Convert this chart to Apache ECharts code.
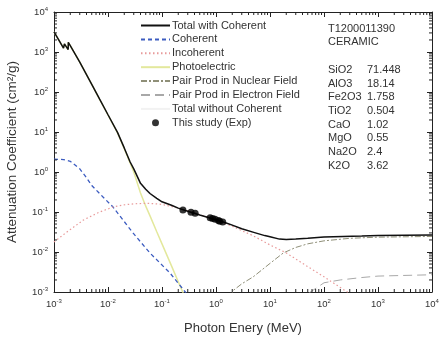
<!DOCTYPE html>
<html>
<head>
<meta charset="utf-8">
<script src="https://cdn.jsdelivr.net/npm/echarts@6/dist/echarts.min.js"></script>
<style>
html, body { margin: 0; padding: 0; background: #fff; }
#chart { width: 440px; height: 338px; }
</style>
</head>
<body>
<div id="chart"></div>
<script>
// energies in MeV, attenuation in cm2/g
var energyTotal = [0.001, 0.0012, 0.0015, 0.00156, 0.00183, 0.00184, 0.002, 0.003, 0.005, 0.007, 0.01, 0.015, 0.02, 0.0257, 0.03, 0.04, 0.05, 0.06, 0.08, 0.1, 0.15, 0.2, 0.3, 0.5, 0.8, 1, 1.5, 2, 3, 5, 8, 10, 15, 20, 30, 50, 100, 500, 1000, 10000];
var muTotal = [3200, 2100, 1250, 1600, 1150, 1750, 1450, 560, 156, 66, 27, 9.8, 4.0, 1.78, 1.2, 0.52, 0.37, 0.29, 0.22, 0.18, 0.147, 0.125, 0.104, 0.084, 0.070, 0.064, 0.054, 0.047, 0.038, 0.031, 0.0257, 0.024, 0.021, 0.0205, 0.021, 0.022, 0.0237, 0.025, 0.0258, 0.0266];
var muTotalNoCoh = [3198, 2098, 1248, 1598, 1148, 1748, 1448, 559, 155.5, 65.8, 26.9, 9.7, 3.95, 1.75, 1.17, 0.48, 0.34, 0.27, 0.21, 0.172, 0.143, 0.123, 0.103, 0.0838, 0.0699, 0.0639, 0.054, 0.047, 0.038, 0.031, 0.0257, 0.024, 0.021, 0.0205, 0.021, 0.022, 0.0237, 0.025, 0.0258, 0.0266];

var energyCoh = [0.001, 0.0015, 0.002, 0.003, 0.004, 0.005, 0.008, 0.0124, 0.019, 0.029, 0.06, 0.14, 0.27, 0.5];
var muCoh = [2.1, 2.05, 1.85, 1.2, 0.72, 0.46, 0.24, 0.133, 0.063, 0.030, 0.0094, 0.003, 0.001, 0.0003];

var energyIncoh = [0.001, 0.0017, 0.0035, 0.007, 0.0124, 0.019, 0.03, 0.05, 0.08, 0.1, 0.2, 0.3, 0.5, 1, 2, 5, 10, 20, 50, 100, 200, 500, 1000];
var muIncoh = [0.0178, 0.031, 0.063, 0.10, 0.133, 0.15, 0.16, 0.165, 0.16, 0.155, 0.125, 0.107, 0.086, 0.0635, 0.044, 0.025, 0.015, 0.0095, 0.0043, 0.0024, 0.0013, 0.00058, 0.0003];

var energyPhoto = [0.001, 0.0012, 0.0015, 0.00156, 0.00183, 0.00184, 0.002, 0.003, 0.005, 0.007, 0.01, 0.015, 0.02, 0.03, 0.04, 0.05, 0.06, 0.08, 0.1, 0.15, 0.2, 0.25, 0.3];
var muPhoto = [3190, 2090, 1245, 1595, 1145, 1745, 1445, 557, 155, 65, 26.6, 9.5, 3.8, 1.0, 0.30, 0.14, 0.08, 0.032, 0.016, 0.0045, 0.0018, 0.0009, 0.0005];

var energyPairN = [1.2, 1.5, 2.1, 3, 4.9, 10.2, 17.7, 30, 50, 100, 300, 1000, 10000];
var muPairN = [0.0001, 0.0004, 0.0011, 0.0016, 0.0024, 0.0053, 0.0095, 0.013, 0.016, 0.019, 0.022, 0.0235, 0.0245];

var energyPairE = [10, 20, 50, 100, 200, 500, 1000, 10000];
var muPairE = [0.0001, 0.0004, 0.0009, 0.0017, 0.002, 0.0023, 0.0025, 0.0027];

// this study (Exp)
var expEnergy = [0.244, 0.344, 0.411, 0.779, 0.867, 0.964, 1.112, 1.173, 1.332];
var expMu = [0.112, 0.098, 0.093, 0.072, 0.069, 0.066, 0.061, 0.059, 0.056];

var oxideNames = ['SiO2', 'AlO3', 'Fe2O3', 'TiO2', 'CaO', 'MgO', 'Na2O', 'K2O'];
var oxideValues = ['71.448', '18.14', '1.758', '0.504', '1.02', '0.55', '2.4', '3.62'];

var axisMin = 0.001, axisMax = 10000;

function pairs(xs, ys) {
    var out = [];
    for (var i = 0; i < xs.length; i++) out.push([xs[i], ys[i]]);
    return out;
}

// minor tick positions 2..9 x 10^n for the log axes
var minorVals = [];
for (var p = -3; p < 4; p++) {
    for (var k = 2; k <= 9; k++) minorVals.push(k * Math.pow(10, p));
}

function expLabel(v) {
    var e = Math.round(Math.log10(v));
    return '{b|10}{e|' + e + '}';
}

var FONT = 'Liberation Sans';
var labelRich = {
    b: { fontSize: 9.5, color: '#333', fontFamily: FONT },
    e: { fontSize: 6, color: '#333', fontFamily: FONT, padding: [0, 0, 6, 0] }
};

function logAxis(pos, showLabel, extra) {
    var a = {
        type: 'log',
        logBase: 10,
        position: pos,
        min: axisMin,
        max: axisMax,
        interval: 1,
        axisLine: { show: true, lineStyle: { color: '#222', width: 1 } },
        axisTick: { show: true, inside: true, length: 5, lineStyle: { color: '#222' } },
        splitLine: { show: false },
        axisLabel: { show: showLabel, formatter: expLabel, rich: labelRich, margin: 6 }
    };
    for (var key in extra) a[key] = extra[key];
    return a;
}

var myChart = echarts.init(document.getElementById('chart'));

var tickStyle = { stroke: '#222', lineWidth: 1 };
var noSym = { opacity: 0 };
var blockText = { fontSize: 11, fontWeight: 'normal', color: '#333', lineHeight: 13.7, fontFamily: FONT };

var Option = {
    animation: false,
    backgroundColor: '#fff',
    grid: { left: 54, right: 8, top: 12, bottom: 46, outerBoundsMode: 'none', containLabel: false },
    legend: {
        orient: 'vertical',
        left: 140,
        top: 20,
        padding: 0,
        itemWidth: 29,
        itemHeight: 7,
        itemGap: 2.9,
        textStyle: { fontSize: 11, lineHeight: 10, color: '#333', fontFamily: FONT, padding: [0, 0, 0, -3] },
        data: [
            { name: 'Total with Coherent', itemStyle: noSym },
            { name: 'Coherent', itemStyle: noSym },
            { name: 'Incoherent', itemStyle: noSym },
            { name: 'Photoelectric', itemStyle: noSym },
            { name: 'Pair Prod in Nuclear Field', itemStyle: noSym },
            { name: 'Pair Prod in Electron Field', itemStyle: noSym },
            { name: 'Total without Coherent', itemStyle: noSym },
            { name: 'This study (Exp)', icon: 'circle' }
        ]
    },
    title: [{
        left: 328, top: 22, padding: 0,
        text: 'T1200011390\nCERAMIC',
        textStyle: { fontSize: 11, fontWeight: 'normal', color: '#333', lineHeight: 13.5, fontFamily: FONT }
    }, {
        left: 328, top: 63, padding: 0,
        text: oxideNames.join('\n'),
        textStyle: blockText
    }, {
        left: 367, top: 63, padding: 0,
        text: oxideValues.join('\n'),
        textStyle: blockText
    }],
    xAxis: [
        logAxis('bottom', true, {
            name: 'Photon Enery (MeV)', nameLocation: 'middle', nameGap: 30,
            nameTextStyle: { fontSize: 13, color: '#333', fontFamily: FONT }
        }),
        logAxis('top', false, {})
    ],
    yAxis: [
        logAxis('left', true, {
            name: 'Attenuation Coefficient (cm\u00b2/g)', nameLocation: 'middle', nameGap: 35,
            nameTextStyle: { fontSize: 13.5, color: '#333', fontFamily: FONT }
        }),
        logAxis('right', false, {})
    ],
    series: [{
        name: 'Total without Coherent',
        type: 'line', symbol: 'none', z: 1,
        lineStyle: { color: '#f2f2f2', width: 1 },
        data: pairs(energyTotal, muTotalNoCoh)
    }, {
        name: 'Photoelectric',
        type: 'line', symbol: 'none', z: 2,
        lineStyle: { color: '#e3e89c', width: 1.5 },
        data: pairs(energyPhoto, muPhoto)
    }, {
        name: 'Coherent',
        type: 'line', symbol: 'none', z: 3,
        lineStyle: { color: '#3c5cc0', width: 1.3, type: [4, 3] },
        data: pairs(energyCoh, muCoh)
    }, {
        name: 'Incoherent',
        type: 'line', symbol: 'none', z: 3,
        lineStyle: { color: '#e89a9a', width: 1.2, type: [1.5, 2.5] },
        data: pairs(energyIncoh, muIncoh)
    }, {
        name: 'Pair Prod in Nuclear Field',
        type: 'line', symbol: 'none', z: 3,
        lineStyle: { color: '#8f8f78', width: 1, type: [6, 2, 2, 2] },
        data: pairs(energyPairN, muPairN)
    }, {
        name: 'Pair Prod in Electron Field',
        type: 'line', symbol: 'none', z: 3,
        lineStyle: { color: '#a8a8a8', width: 1, type: [9, 5] },
        data: pairs(energyPairE, muPairE)
    }, {
        name: 'Total with Coherent',
        type: 'line', symbol: 'none', z: 4,
        lineStyle: { color: '#111', width: 1.5 },
        data: pairs(energyTotal, muTotal)
    }, {
        name: 'This study (Exp)',
        type: 'scatter', symbol: 'circle', symbolSize: 7, z: 5,
        itemStyle: { color: '#000' },
        data: pairs(expEnergy, expMu)
    }, {
        // log minor ticks on bottom and top
        type: 'custom', silent: true, clip: false, z: 6,
        data: minorVals.map(function (v) { return [v, 1]; }),
        renderItem: function (params, api) {
            var b = api.coord([api.value(0), axisMin]);
            var t = api.coord([api.value(0), axisMax]);
            return { type: 'group', children: [
                { type: 'line', shape: { x1: b[0], y1: b[1], x2: b[0], y2: b[1] - 3 }, style: tickStyle },
                { type: 'line', shape: { x1: t[0], y1: t[1], x2: t[0], y2: t[1] + 3 }, style: tickStyle }
            ] };
        }
    }, {
        // log minor ticks on left and right
        type: 'custom', silent: true, clip: false, z: 6,
        data: minorVals.map(function (v) { return [1, v]; }),
        renderItem: function (params, api) {
            var l = api.coord([axisMin, api.value(1)]);
            var r = api.coord([axisMax, api.value(1)]);
            return { type: 'group', children: [
                { type: 'line', shape: { x1: l[0], y1: l[1], x2: l[0] + 3, y2: l[1] }, style: tickStyle },
                { type: 'line', shape: { x1: r[0], y1: r[1], x2: r[0] - 3, y2: r[1] }, style: tickStyle }
            ] };
        }
    }]
};

myChart.setOption(Option);
</script>
</body>
</html>
